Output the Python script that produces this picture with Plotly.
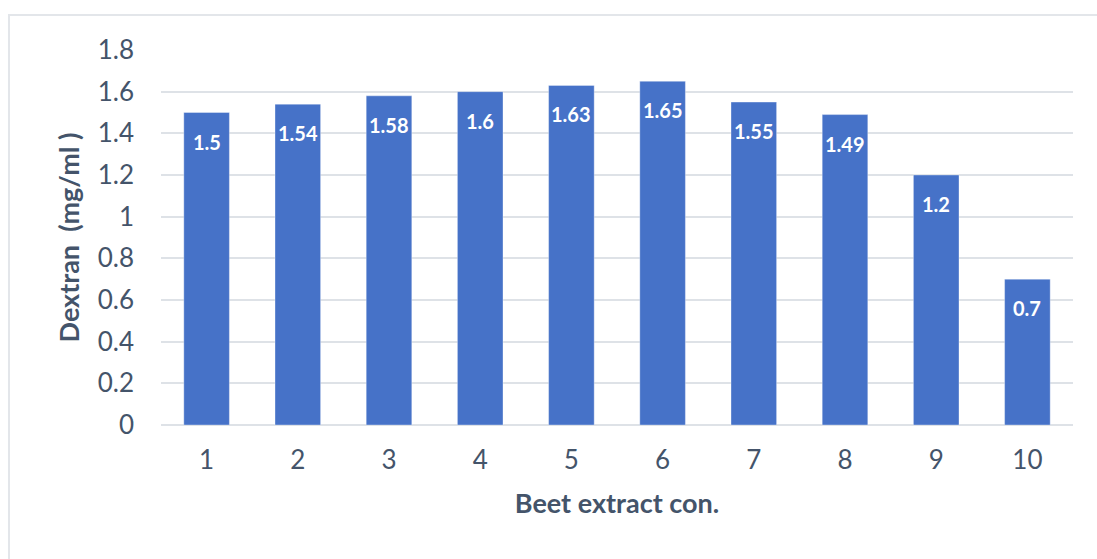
import plotly.graph_objects as go

# Dextran yield at each beet extract concentration
concentrations = ["1", "2", "3", "4", "5", "6", "7", "8", "9", "10"]
dextran = [1.5, 1.54, 1.58, 1.6, 1.63, 1.65, 1.55, 1.49, 1.2, 0.7]
y_ticks = [0, 0.2, 0.4, 0.6, 0.8, 1, 1.2, 1.4, 1.6, 1.8]

TEXT = "#44546A"
GRID = "#DEE2E7"
FONT = "Lato, Open Sans, sans-serif"

fig = go.Figure()
fig.add_trace(go.Bar(
    x=concentrations,
    y=dextran,
    marker=dict(color="#4672C8", line=dict(color="rgba(255,255,255,0.35)", width=1)),
    hoverinfo="x+y",
))

# value labels just inside the top of each bar (x given as category index)
for i, v in enumerate(dextran):
    fig.add_annotation(
        x=i, y=v, text=f"{v:g}", showarrow=False, yshift=-29,
        font=dict(family=FONT, size=20, color="white", weight="bold"),
    )

# light frame around the chart area
fig.add_shape(type="rect", xref="paper", yref="paper",
              x0=-0.1667, y0=-0.40, x1=1.06, y1=1.0933,
              line=dict(color="#E3E6EA", width=2), fillcolor="rgba(0,0,0,0)", layer="below")

fig.update_layout(
    width=1097, height=559,
    margin=dict(l=161, r=24, t=50, b=134),
    paper_bgcolor="white", plot_bgcolor="white",
    bargap=0.5, showlegend=False,
    font=dict(family=FONT, color=TEXT),
    xaxis=dict(
        type="category", showgrid=False, showline=False, zeroline=False,
        range=[-0.5, len(concentrations) - 0.5],
        ticks="", ticklabelstandoff=17,
        tickfont=dict(size=26, color=TEXT),
        title=dict(text="Beet extract con.", standoff=20,
                   font=dict(size=27, color=TEXT, weight="bold")),
    ),
    yaxis=dict(
        range=[0, 1.8], tickvals=y_ticks, ticktext=[f"{t:g}" for t in y_ticks],
        showgrid=True, gridcolor=GRID, gridwidth=2,
        zeroline=True, zerolinecolor=GRID, zerolinewidth=2,
        showline=False, ticks="", ticklabelstandoff=26,
        tickfont=dict(size=26, color=TEXT),
        title=dict(text="Dextran  (mg/ml )", standoff=10,
                   font=dict(size=27, color=TEXT, weight="bold")),
    ),
)

fig.write_html("out.html")
